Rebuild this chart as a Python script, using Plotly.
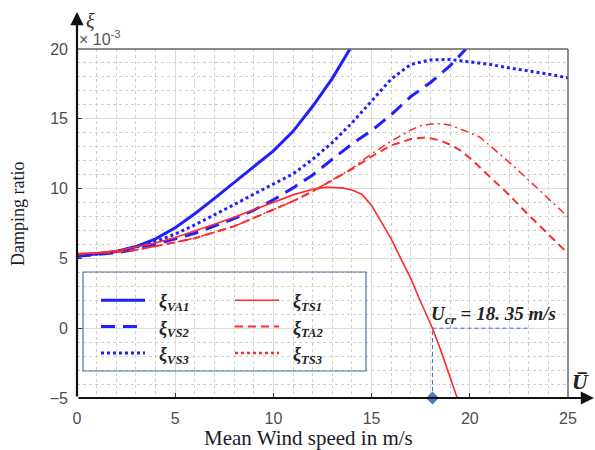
import plotly.graph_objects as go

# ---- data (damping ratio, x 1e-3) ----
u_va1 = [0, 1, 2, 3, 4, 5, 6, 7, 8, 9, 10, 11, 12, 13, 13.9]
xi_va1 = [5.15, 5.3, 5.5, 5.85, 6.4, 7.2, 8.2, 9.3, 10.45, 11.6, 12.7, 14.1, 15.9, 17.9, 20.0]

u_vs2 = [0, 1, 2, 3, 4, 5, 6, 7, 8, 9, 10, 11, 12, 13, 14, 15, 16, 17, 18, 19, 19.8]
xi_vs2 = [5.15, 5.25, 5.4, 5.65, 6.0, 6.4, 6.8, 7.3, 7.85, 8.45, 9.2, 10.05, 10.98, 12.1, 13.2, 14.15, 15.3, 16.6, 17.6, 18.8, 20.0]

u_vs3 = [0, 1, 2, 3, 4, 5, 6, 7, 8, 9, 10, 11, 12, 13, 14, 15, 16, 17, 18, 19, 20, 21, 22, 23, 24, 25]
xi_vs3 = [5.2, 5.3, 5.5, 5.8, 6.2, 6.75, 7.4, 8.1, 8.85, 9.6, 10.3, 11.05, 12.1, 13.3, 14.7, 16.3, 17.85, 18.9, 19.22, 19.25, 19.1, 18.9, 18.65, 18.45, 18.2, 17.93]

u_ts1 = [0, 1, 2, 3, 4, 5, 6, 7, 8, 9, 10, 11, 12, 12.7, 13.5, 14, 14.5, 15, 15.5, 16, 16.5, 17, 17.5, 18.1, 18.5, 19, 19.36]
xi_ts1 = [5.35, 5.4, 5.55, 5.8, 6.1, 6.5, 6.95, 7.45, 7.95, 8.5, 9.0, 9.55, 9.95, 10.1, 10.05, 9.9, 9.6, 8.8, 7.6, 6.4, 4.95, 3.55, 1.88, 0.0, -1.5, -3.5, -5.0]

u_ta2 = [0, 1, 2, 3, 4, 5, 6, 7, 8, 9, 10, 11, 12, 13, 14, 15, 16, 17, 17.6, 18, 18.5, 19, 19.5, 20, 21, 22, 23, 24, 25]
xi_ta2 = [5.3, 5.35, 5.45, 5.6, 5.85, 6.15, 6.45, 6.85, 7.3, 7.9, 8.5, 9.1, 9.8, 10.6, 11.4, 12.3, 13.1, 13.55, 13.65, 13.6, 13.45, 13.15, 12.75, 12.2, 10.9, 9.55, 8.1, 6.7, 5.35]

u_ts3 = [0, 1, 2, 3, 4, 5, 6, 7, 8, 9, 10, 11, 12, 13, 14, 15, 16, 17, 17.5, 18, 18.5, 19, 19.5, 20, 20.5, 21, 22, 23, 24, 25]
xi_ts3 = [5.3, 5.35, 5.45, 5.6, 5.85, 6.15, 6.45, 6.85, 7.3, 7.9, 8.5, 9.1, 9.8, 10.6, 11.45, 12.5, 13.4, 14.2, 14.5, 14.62, 14.65, 14.55, 14.3, 14.0, 13.7, 13.1, 11.9, 10.6, 9.3, 7.97]

u_cr = 18.1
u_cr_label = "18. 35"
x_ticks = [0, 5, 10, 15, 20, 25]
y_ticks = [-5, 0, 5, 10, 15, 20]

BLUE = "#1f1fff"
RED = "#ff2a2a"
LEGFONT = dict(family="Liberation Serif", size=18, color="#222222")

fig = go.Figure()

def lab(s):
    return "\u00a0\u00a0<b><i>ξ<sub>%s</sub></i></b>" % s

fig.add_trace(go.Scatter(x=u_va1, y=xi_va1, mode="lines", name=lab("VA1"),
                         line=dict(color=BLUE, width=3), legend="legend"))
fig.add_trace(go.Scatter(x=u_vs2, y=xi_vs2, mode="lines", name=lab("VS2"),
                         line=dict(color=BLUE, width=3, dash="14px,8px"), legend="legend"))
fig.add_trace(go.Scatter(x=u_vs3, y=xi_vs3, mode="lines", name=lab("VS3"),
                         line=dict(color=BLUE, width=3, dash="3px,3px"), legend="legend"))
fig.add_trace(go.Scatter(x=u_ts1, y=xi_ts1, mode="lines", name=lab("TS1"),
                         line=dict(color=RED, width=1.6), legend="legend2"))
fig.add_trace(go.Scatter(x=u_ta2, y=xi_ta2, mode="lines", name=lab("TA2"),
                         line=dict(color=RED, width=2, dash="8px,5px"), legend="legend2"))
fig.add_trace(go.Scatter(x=u_ts3, y=xi_ts3, mode="lines", name=lab("TS3"), showlegend=False,
                         line=dict(color=RED, width=1.5, dash="8px,4px,2px,4px")))
fig.add_trace(go.Scatter(x=[None], y=[None], mode="lines", name=lab("TS3"),
                         line=dict(color=RED, width=2.5, dash="3px,3px"), legend="legend2"))

# critical speed guide lines and marker
fig.add_trace(go.Scatter(x=[u_cr, u_cr], y=[-5, 0], mode="lines", showlegend=False,
                         line=dict(color="#4472c4", width=1, dash="4px,3px")))
fig.add_trace(go.Scatter(x=[u_cr, 23.1], y=[0, 0], mode="lines", showlegend=False,
                         line=dict(color="#4472c4", width=1, dash="4px,3px")))
fig.add_trace(go.Scatter(x=[u_cr], y=[-5], mode="markers", showlegend=False, cliponaxis=False,
                         marker=dict(symbol="diamond", size=10, color="#4a7bc4")))

W, H = 595, 450
L, R, T, B = 77, 27, 49, 52
pw, ph = W - L - R, H - T - B

def px(xp):
    return (xp - L) / pw

def py(yp):
    return (H - B - yp) / ph

axis_common = dict(
    showgrid=True, gridcolor="#dcdcdc", gridwidth=1,
    ticks="inside", ticklen=5, tickcolor="#333333", tickwidth=1,
    tickfont=dict(family="Liberation Sans", size=16, color="#4d4d4d"),
    showline=False, zeroline=False,
    minor=dict(showgrid=True, gridcolor="#cfcfcf", griddash="dot", gridwidth=1, dtick=1, ticks=""),
)

fig.update_layout(
    width=W, height=H,
    margin=dict(l=L, r=R, t=T, b=B, autoexpand=False),
    paper_bgcolor="white", plot_bgcolor="white",
    xaxis=dict(range=[0, 25], tickvals=x_ticks, ticklabelstandoff=9, **axis_common),
    yaxis=dict(range=[-5, 20], tickvals=y_ticks, ticklabelstandoff=8, **axis_common),
    legend=dict(x=px(96), y=py(282), xanchor="left", yanchor="top", bgcolor="rgba(0,0,0,0)",
                font=LEGFONT, borderwidth=0, tracegroupgap=0, itemwidth=44),
    legend2=dict(x=px(230), y=py(282), xanchor="left", yanchor="top", bgcolor="rgba(0,0,0,0)",
                 font=LEGFONT, borderwidth=0, tracegroupgap=0, itemwidth=44),
    showlegend=True,
)

shapes = [
    # legend box
    dict(type="rect", xref="paper", yref="paper", x0=px(83), x1=px(366), y0=py(371), y1=py(272),
         line=dict(color="#4f6fa0", width=1.2), fillcolor="rgba(0,0,0,0)"),
    # top and right frame lines
    dict(type="line", xref="paper", yref="paper", x0=0, x1=1, y0=1, y1=1,
         line=dict(color="#666666", width=1.5)),
    dict(type="line", xref="paper", yref="paper", x0=1, x1=1, y0=0, y1=1,
         line=dict(color="#666666", width=1.5)),
]
fig.update_layout(shapes=shapes)

annots = [
    # axis arrows
    dict(x=0, y=py(12), xref="paper", yref="paper", ax=0, ay=(H - B) - 12, axref="pixel", ayref="pixel",
         showarrow=True, arrowhead=2, arrowsize=1.2, arrowwidth=2.2, arrowcolor="#111111", text="", standoff=0),
    dict(x=px(594), y=0, xref="paper", yref="paper", ax=-(594 - L), ay=0, axref="pixel", ayref="pixel",
         showarrow=True, arrowhead=2, arrowsize=1.2, arrowwidth=2.2, arrowcolor="#111111", text="", standoff=0),
    dict(x=px(84), y=py(21), xref="paper", yref="paper", text="<i>ξ</i>", showarrow=False,
         xanchor="left", yanchor="middle", font=dict(family="Liberation Serif", size=20, color="#333333")),
    dict(x=px(77), y=py(38), xref="paper", yref="paper", text="× 10<sup>-3</sup>", showarrow=False,
         xanchor="left", yanchor="middle", font=dict(family="Liberation Sans", size=16, color="#555555")),
    dict(x=px(580), y=py(382), xref="paper", yref="paper", text="<b><i>U̅</i></b>", showarrow=False,
         xanchor="center", yanchor="middle", font=dict(family="DejaVu Serif", size=18, color="#222222")),
    dict(x=px(429), y=py(315), xref="paper", yref="paper",
         text="<b><i>U<sub>cr</sub> = %s m/s</i></b>" % u_cr_label, showarrow=False,
         xanchor="left", yanchor="middle", font=dict(family="Liberation Serif", size=19, color="#222222")),
    dict(x=px(18), y=py(214), xref="paper", yref="paper", text="Damping ratio", textangle=-90,
         showarrow=False, xanchor="center", yanchor="middle",
         font=dict(family="Liberation Serif", size=18, color="#1a1a2a")),
    dict(x=px(308), y=py(438), xref="paper", yref="paper", text="Mean Wind speed in m/s",
         showarrow=False, xanchor="center", yanchor="middle",
         font=dict(family="Liberation Serif", size=21, color="#1a1a2a")),
]
fig.update_layout(annotations=annots)

fig.write_html("out.html", config={"displayModeBar": False},
               post_script="document.body.style.margin='0px';document.body.style.overflow='hidden';")
